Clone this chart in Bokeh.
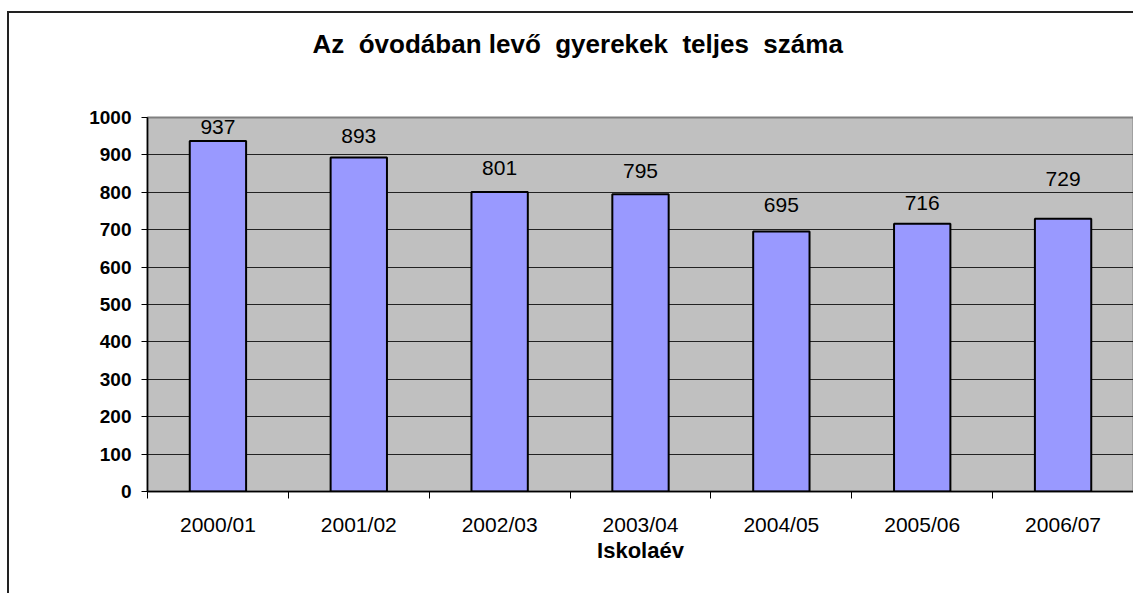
from bokeh.plotting import figure
from bokeh.models import ColumnDataSource, Range1d, FixedTicker, LabelSet, Title
from bokeh.core.properties import value
from bokeh.embed import file_html
from bokeh.resources import INLINE

years = ["2000/01", "2001/02", "2002/03", "2003/04", "2004/05", "2005/06", "2006/07"]
counts = [937, 893, 801, 795, 695, 716, 729]
label_offsets = [14, 22, 24, 23, 27, 21, 40]
y_ticks = list(range(0, 1001, 100))
NB = "\u00a0"
title_text = f"Az {NB}óvodában levő {NB}gyerekek {NB}teljes {NB}száma"
x_title = "Iskolaév"

FONT = "Liberation Sans"

xs = [i + 0.5 for i in range(len(years))]
src = ColumnDataSource(dict(x=xs, top=counts, txt=[str(c) for c in counts], off=label_offsets))

p = figure(title=None, width=1126, height=582, x_range=Range1d(0, len(years)), y_range=Range1d(0, 1000),
           output_backend="svg", toolbar_location=None,
           min_border_left=138, min_border_right=2, min_border_top=104, min_border_bottom=104)
p.styles = {"border-left": "2px solid #222222", "border-top": "2px solid #222222",
            "margin-left": "7px", "margin-top": "11px"}

# spacer between frame and title, then the title itself (outer)
p.add_layout(Title(text=" ", text_font_size="1px", standoff=51), "above")
p.add_layout(Title(text=title_text, align="left", offset=165, standoff=10,
                   text_font=FONT, text_font_style="bold", text_font_size="26px",
                   text_color="black"), "above")

p.background_fill_color = "#C0C0C0"
p.border_fill_color = "white"
p.outline_line_color = "#808080"
p.outline_line_width = 2

p.vbar(x="x", top="top", width=0.4, bottom=0, source=src,
       fill_color="#9999FF", line_color="black", line_width=2)

p.add_layout(LabelSet(x="x", y="top", text="txt", y_offset="off", source=src,
                      text_align="center", text_baseline="middle",
                      text_font=value(FONT), text_font_size="21px", text_color="black"))

# x axis
xa = p.xaxis[0]
xa.ticker = FixedTicker(ticks=xs, minor_ticks=list(range(len(years) + 1)))
xa.major_label_overrides = {x: y for x, y in zip(xs, years)}
xa.major_tick_line_color = None
xa.major_tick_in = 0
xa.major_tick_out = 0
xa.minor_tick_line_color = "black"
xa.minor_tick_in = 0
xa.minor_tick_out = 7
xa.axis_line_color = "black"
xa.axis_line_width = 1.5
xa.major_label_text_font = FONT
xa.major_label_text_font_size = "21px"
xa.major_label_text_color = "black"
xa.major_label_standoff = 14
xa.axis_label = x_title
xa.axis_label_text_font = FONT
xa.axis_label_text_font_style = "bold"
xa.axis_label_text_font_size = "22px"
xa.axis_label_text_color = "black"
xa.axis_label_standoff = -1

# y axis
ya = p.yaxis[0]
ya.ticker = FixedTicker(ticks=y_ticks, minor_ticks=[])
ya.major_tick_line_color = "black"
ya.major_tick_in = 0
ya.major_tick_out = 6
ya.minor_tick_line_color = None
ya.axis_line_color = "black"
ya.axis_line_width = 1.5
ya.major_label_text_font = FONT
ya.major_label_text_font_style = "bold"
ya.major_label_text_font_size = "19px"
ya.major_label_text_color = "black"
ya.major_label_standoff = 10

p.xgrid.visible = False
p.ygrid.ticker = FixedTicker(ticks=y_ticks)
p.ygrid.grid_line_color = "#222222"
p.ygrid.grid_line_width = 1

open("out.html", "w").write(file_html(p, INLINE))
